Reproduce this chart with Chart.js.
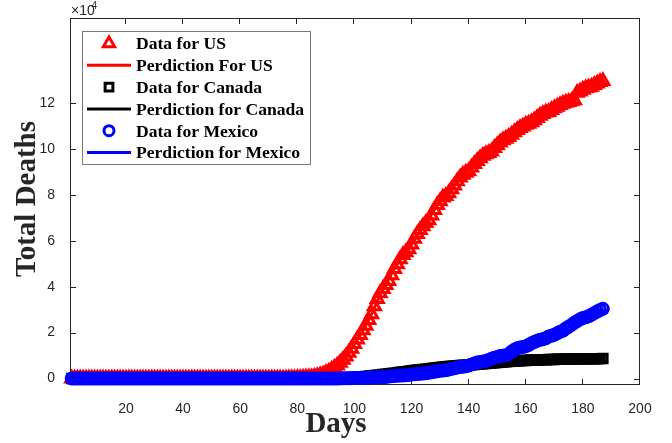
<!DOCTYPE html>
<html><head><meta charset="utf-8">
<script src="https://cdn.jsdelivr.net/npm/chart.js@4/dist/chart.umd.min.js"></script>
<style>html,body{margin:0;padding:0;background:#fff}#wrap{position:relative;width:672px;height:443px}</style>
</head><body><div id="wrap"><canvas id="c" width="672" height="443"></canvas></div>
<script>
// ---- data (day index, total deaths) ----
const days = [
1,2,3,4,5,6,7,8,9,10,11,12,13,14,15,16,17,18,19,20,21,22,23,24,25,26,27,28,29,30,
31,32,33,34,35,36,37,38,39,40,41,42,43,44,45,46,47,48,49,50,51,52,53,54,55,56,57,58,59,60,
61,62,63,64,65,66,67,68,69,70,71,72,73,74,75,76,77,78,79,80,81,82,83,84,85,86,87,88,89,90,
91,92,93,94,95,96,97,98,99,100,101,102,103,104,105,106,107,108,109,110,111,112,113,114,115,116,117,118,119,120,
121,122,123,124,125,126,127,128,129,130,131,132,133,134,135,136,137,138,139,140,141,142,143,144,145,146,147,148,149,150,
151,152,153,154,155,156,157,158,159,160,161,162,163,164,165,166,167,168,169,170,171,172,173,174,175,176,177,178,179,180,
181,182,183,184,185,186,187];

const usData = [
0,0,0,0,0,0,0,0,0,0, 0,0,0,0,0,0,0,0,0,0, 0,0,0,0,0,0,0,0,0,0,
0,0,0,0,0,0,0,0,0,0, 0,0,0,0,0,0,0,0,0,0, 0,0,0,0,0,0,0,0,0,0,
1,1,2,6,9,11,12,15,19,22,
28,36,40,47,54,63,85,108,150,200,
260,340,470,600,600,800,1100,1400,1800,2400,
3000,3800,4700,5700,6900,8200,9600,11200,13000,15000,
17000,19000,21000,23000,25500,28000,31500,34600,37100,39000,
40700,42500,45000,47700,49800,51900,53800,55000,56300,58400,
60900,62900,64700,66300,67700,68900,71000,73400,75600,77200,
78800,79500,80700,82400,84100,85900,87500,88700,89600,90300,
91900,93400,94700,95900,97000,97700,98200,98900,100400,101600,
102800,103800,104400,105200,106200,107200,108200,109100,109800,110500,
110900,111600,112500,113500,114400,115200,115800,116100,116900,117700,
118400,119100,119700,120100,120400,120800,121200,124400,125000,125800,
126400,126700,127100,127800,128500,129100,129600];

const canadaData = [
0,0,0,0,0,0,0,0,0,0, 0,0,0,0,0,0,0,0,0,0, 0,0,0,0,0,0,0,0,0,0,
0,0,0,0,0,0,0,0,0,0, 0,0,0,0,0,0,0,0,0,0, 0,0,0,0,0,0,0,0,0,0,
0,0,0,0,0,0,0,0,0,1,
1,1,1,4,5,8,9,12,12,19,
21,25,26,30,38,54,61,64,80,101,
109,139,179,218,259,339,375,407,503,557,
654,714,781,879,1006,1257,1354,1399,1563,1725,
1908,2075,2221,2365,2560,2702,2906,2996,3155,3391,
3566,3684,3795,3915,4043,4232,4408,4569,4691,4871,
4995,5115,5209,5350,5472,5562,5702,5782,5857,5912,
6028,6146,6250,6355,6424,6545,6639,6765,6876,6979,
7073,7159,7310,7395,7498,7635,7703,7773,7835,7897,
7960,8036,8071,8107,8146,8175,8213,8254,8300,8346,
8388,8410,8430,8454,8482,8500,8522,8545,8566,8576,
8584,8591,8615,8642,8664,8684,8700];

const mexicoData = [
0,0,0,0,0,0,0,0,0,0, 0,0,0,0,0,0,0,0,0,0, 0,0,0,0,0,0,0,0,0,0,
0,0,0,0,0,0,0,0,0,0, 0,0,0,0,0,0,0,0,0,0, 0,0,0,0,0,0,0,0,0,0,
0,0,0,0,0,0,0,0,0,0, 0,0,0,0,0,0,0,1,1,2,
2,3,4,5,6,8,12,16,20,28,
29,37,50,60,79,94,125,141,174,194,
233,273,296,332,406,449,486,546,650,686,
712,857,970,1069,1221,1305,1351,1434,1569,1732,
1859,1972,2061,2154,2271,2507,2704,2961,3160,3353,
3465,3573,3926,4220,4477,4767,5045,5177,5332,5666,
6090,6510,6989,7179,7394,7633,8134,8597,9044,9415,
9779,9930,10167,10637,11729,12545,13170,13511,13699,14053,
14649,15357,15944,16448,16872,17141,17580,18310,18655,19080,
19747,20394,20781,21825,22584,23377,24324,25060,25779,26381,
26648,27121,27769,28510,29189,29843,30366];

// model (prediction) curves, sampled days
const predDays = [1,10,20,30,40,50,60,65,70,75,80,85,90,95,100,105,110,115,120,125,130,135,140,145,150,155,160,165,170,175,180,185,187];
const usPred     = [0,0,0,0,0,0,0,10,30,60,200,600,2400,6900,15000,25500,39000,49800,58400,67700,77200,84100,90300,97000,101600,106200,110500,114400,117700,120400,124800,128500,129600];
const canadaPred = [0,0,0,0,0,0,0,0,1,5,19,38,101,259,557,1006,1725,2560,3391,4043,4871,5472,5912,6424,6979,7498,7897,8146,8346,8482,8576,8664,8700];
const mexicoPred = [0,0,0,0,0,0,0,0,0,0,2,6,28,79,194,406,686,1221,1732,2271,3353,4477,5666,7394,9415,11729,14053,16872,19080,22584,26381,29189,30366];

const seriesLabels = ['Data for US','Perdiction For US','Data for Canada','Perdiction for Canada','Data for Mexico','Perdiction for Mexico'];
const xTickValues = [20,40,60,80,100,120,140,160,180,200];
const yTickValues = [0,20000,40000,60000,80000,100000,120000];
const yTickLabels = ['0','2','4','6','8','10','12'];
const xTitle = 'Days';
const yTitle = 'Total Deaths';

// ---- chart ----
const pts = (xs, ys) => xs.map((d, i) => ({x: d, y: ys[i]}));
const RED = '#ff0000', BLACK = '#000000', BLUE = '#0000ff', AX = '#262626';

function markerDS(label, vals, color, style, r, bw, order) {
  return {label, data: pts(days, vals), showLine: false, pointStyle: style, pointRadius: r,
    pointBorderWidth: bw, pointBorderColor: color, pointBackgroundColor: 'rgba(0,0,0,0)',
    borderColor: color, backgroundColor: 'rgba(0,0,0,0)', clip: false, order, _kind: 'marker'};
}
function lineDS(label, vals, color, order) {
  return {label, data: pts(predDays, vals), showLine: true, borderColor: color, borderWidth: 3,
    pointRadius: 0, tension: 0.3, fill: false, clip: false, order, _kind: 'line'};
}

const datasets = [
  markerDS(seriesLabels[0], usData, RED, 'triangle', 7, 3, 6),
  lineDS(seriesLabels[1], usPred, RED, 5),
  markerDS(seriesLabels[2], canadaData, BLACK, 'rect', 6, 3, 4),
  lineDS(seriesLabels[3], canadaPred, BLACK, 3),
  markerDS(seriesLabels[4], mexicoData, BLUE, 'circle', 5.5, 3, 2),
  lineDS(seriesLabels[5], mexicoPred, BLUE, 1),
];

function drawMarker(ctx, style, x, y, r) {
  ctx.beginPath();
  if (style === 'triangle') {
    const s = Math.sin(2 * Math.PI / 3) * r;
    ctx.moveTo(x, y - r); ctx.lineTo(x + s, y + r / 2); ctx.lineTo(x - s, y + r / 2); ctx.closePath();
  } else if (style === 'rect') {
    const h = r * Math.SQRT1_2; ctx.rect(x - h, y - h, 2 * h, 2 * h);
  } else {
    ctx.arc(x, y, r, 0, 2 * Math.PI);
  }
  ctx.stroke();
}

const legendMarkerR = {triangle: 6.5, rect: 5.5, circle: 5};

const framePlugin = {
  id: 'frame',
  beforeDatasetsDraw(chart) {
    const {ctx, chartArea: a, scales: {x, y}} = chart;
    ctx.save();
    ctx.strokeStyle = AX; ctx.lineWidth = 1;
    ctx.strokeRect(a.left + 0.5, a.top + 0.5, a.right - a.left - 1, a.bottom - a.top - 1);
    ctx.beginPath();
    xTickValues.forEach(v => {
      const px = Math.round(x.getPixelForValue(v)) - 0.5;
      ctx.moveTo(px, a.bottom); ctx.lineTo(px, a.bottom - 6);
      ctx.moveTo(px, a.top); ctx.lineTo(px, a.top + 6);
    });
    yTickValues.forEach(v => {
      const py = Math.round(y.getPixelForValue(v)) + 0.5;
      ctx.moveTo(a.left, py); ctx.lineTo(a.left + 6, py);
      ctx.moveTo(a.right, py); ctx.lineTo(a.right - 6, py);
    });
    ctx.stroke();
    // axis titles
    ctx.fillStyle = AX;
    ctx.font = 'bold 29px "Liberation Serif", "Times New Roman", serif';
    ctx.textAlign = 'center'; ctx.textBaseline = 'alphabetic';
    ctx.fillText(xTitle, 336, 432);
    ctx.save(); ctx.translate(35, 199); ctx.rotate(-Math.PI / 2);
    ctx.fillText(yTitle, 0, 0); ctx.restore();
    // exponent
    ctx.textAlign = 'left';
    ctx.font = '14px "Liberation Sans", Arial, sans-serif';
    ctx.fillText('\u00d710', 71, 15);
    ctx.font = '10px "Liberation Sans", Arial, sans-serif';
    ctx.fillText('4', 91.5, 9);
    ctx.restore();
  },
  afterDraw(chart) {
    const ctx = chart.ctx;
    ctx.save();
    ctx.fillStyle = '#ffffff';
    ctx.fillRect(82.5, 31.5, 228, 133);
    ctx.strokeStyle = '#7a7a7a'; ctx.lineWidth = 1;
    ctx.strokeRect(82.5, 31.5, 228, 133);
    chart.data.datasets.forEach((ds, i) => {
      const base = 49.3 + i * 21.8;
      const cy = base - 5.8;
      ctx.strokeStyle = ds.borderColor;
      if (ds._kind === 'marker') {
        ctx.lineWidth = 3;
        drawMarker(ctx, ds.pointStyle, 109, cy, legendMarkerR[ds.pointStyle]);
      } else {
        ctx.lineWidth = 3;
        ctx.beginPath(); ctx.moveTo(87, cy); ctx.lineTo(131, cy); ctx.stroke();
      }
      ctx.fillStyle = '#000';
      ctx.font = 'bold 17.6px "Liberation Serif", "Times New Roman", serif';
      ctx.textAlign = 'left'; ctx.textBaseline = 'alphabetic';
      ctx.fillText(ds.label, 136, base);
    });
    ctx.restore();
  }
};

const tickFont = {family: '"Liberation Sans", Arial, sans-serif', size: 14};
new Chart(document.getElementById('c'), {
  type: 'line',
  data: {datasets},
  options: {
    responsive: false, animation: false, events: [], devicePixelRatio: 1,
    layout: {padding: {left: 0, top: 18, right: 32, bottom: 0}},
    plugins: {legend: {display: false}, tooltip: {enabled: false}},
    scales: {
      x: {type: 'linear', min: 0.4, max: 200,
        afterBuildTicks: s => { s.ticks = xTickValues.map(v => ({value: v})); },
        afterFit: s => { s.height = 58; },
        grid: {display: false}, border: {display: false},
        ticks: {padding: 8, color: AX, font: tickFont, maxRotation: 0, autoSkip: false}},
      y: {type: 'linear', min: -2800, max: 157000,
        afterBuildTicks: s => { s.ticks = yTickValues.map(v => ({value: v})); },
        afterFit: s => { s.width = 70; },
        grid: {display: false}, border: {display: false},
        ticks: {padding: 7, color: AX, font: tickFont, autoSkip: false,
          callback: (v, i) => yTickLabels[i]}}
    }
  },
  plugins: [framePlugin]
});
</script></body></html>
